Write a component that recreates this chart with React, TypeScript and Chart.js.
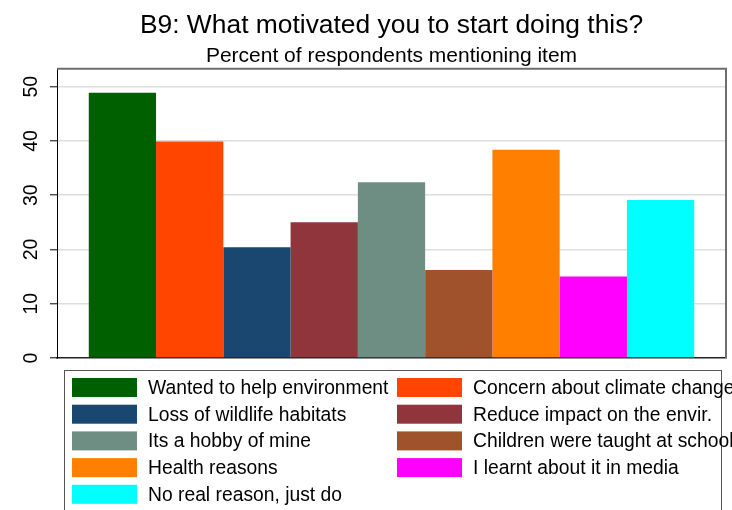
import React, { useEffect, useRef } from "react";
import { Chart, registerables } from "chart.js";

Chart.register(...registerables);

const titleText = "B9: What motivated you to start doing this?";
const subtitleText = "Percent of respondents mentioning item";

const categories = [
  "Wanted to help environment",
  "Concern about climate change",
  "Loss of wildlife habitats",
  "Reduce impact on the envir.",
  "Its a hobby of mine",
  "Children were taught at school",
  "Health reasons",
  "I learnt about it in media",
  "No real reason, just do",
];

const values = [48.9, 39.9, 20.4, 25.0, 32.4, 16.2, 38.4, 15.0, 29.1];

const colors = [
  "#006000",
  "#ff4500",
  "#1a476f",
  "#90353b",
  "#6e8e84",
  "#a0522d",
  "#ff7f00",
  "#ff00ff",
  "#00ffff",
];

const yTicks = [0, 10, 20, 30, 40, 50];

const FONT = "'Liberation Sans', Arial, Helvetica, sans-serif";

const framePlugin = {
  id: "stataFrame",
  afterDraw(chart: any) {
    const { ctx, chartArea } = chart;
    const y = chart.scales.y;
    ctx.save();
    // top and right border of plot region
    ctx.strokeStyle = "#6e6e6e";
    ctx.lineWidth = 2;
    ctx.beginPath();
    ctx.moveTo(chartArea.left, chartArea.top);
    ctx.lineTo(chartArea.right, chartArea.top);
    ctx.lineTo(chartArea.right, chartArea.bottom);
    ctx.stroke();

    // rotated y tick labels
    ctx.fillStyle = "#000";
    ctx.font = `19.5px ${FONT}`;
    ctx.textAlign = "center";
    ctx.textBaseline = "alphabetic";
    y.ticks.forEach((t: any, i: number) => {
      const py = y.getPixelForTick(i);
      const label = String(yTicks[i] ?? t.value);
      ctx.save();
      ctx.translate(chartArea.left - 20, py);
      ctx.rotate(-Math.PI / 2);
      ctx.fillText(label, 0, 0);
      ctx.restore();
    });

    // legend box
    const boxLeft = 64;
    const boxRight = 721;
    const boxTop = 370;
    ctx.strokeStyle = "#555";
    ctx.lineWidth = 1;
    ctx.strokeRect(boxLeft + 0.5, boxTop + 0.5, boxRight - boxLeft, 200);

    const colX = [72, 397];
    const swW = 65;
    const swH = 19;
    const rowTop0 = 378;
    const rowStep = 26.7;
    ctx.font = `19.3px ${FONT}`;
    ctx.textAlign = "left";
    ctx.textBaseline = "middle";
    chart.data.datasets.forEach((ds: any, i: number) => {
      const col = i % 2;
      const row = Math.floor(i / 2);
      const x = colX[col];
      const top = rowTop0 + row * rowStep;
      ctx.fillStyle = ds.backgroundColor;
      ctx.fillRect(x, top, swW, swH);
      ctx.fillStyle = "#000";
      ctx.fillText(ds.label, x + swW + 11, top + swH / 2 + 1);
    });
    ctx.restore();
  },
};

export default function App() {
  const ref = useRef<HTMLCanvasElement>(null);

  useEffect(() => {
    if (!ref.current) return;
    const chart = new Chart(ref.current, {
      type: "bar",
      data: {
        labels: [""],
        datasets: categories.map((c, i) => ({
          label: c,
          data: [values[i]],
          backgroundColor: colors[i],
          borderWidth: 0,
          categoryPercentage: 0.905,
          barPercentage: 1,
        })),
      },
      options: {
        responsive: false,
        animation: false,
        devicePixelRatio: 1,
        layout: { padding: { left: 0, right: 6, top: 0, bottom: 152 } },
        plugins: {
          legend: { display: false },
          tooltip: { enabled: false },
          title: {
            display: true,
            text: titleText,
            fullSize: false,
            color: "#000",
            font: { family: FONT, size: 26.4, weight: "normal", lineHeight: 1.2 },
            padding: { top: 10, bottom: 0 },
          },
          subtitle: {
            display: true,
            text: subtitleText,
            fullSize: false,
            color: "#000",
            font: { family: FONT, size: 21, weight: "normal", lineHeight: 1.2 },
            padding: { top: 1.6, bottom: 0.3 },
          },
        },
        scales: {
          x: {
            display: true,
            grid: { display: false, drawTicks: false },
            ticks: { display: false },
            border: { display: true, color: "#222", width: 1.5 },
            afterFit: (s: any) => {
              s.height = 0;
            },
          },
          y: {
            min: 0,
            max: 53.3,
            afterBuildTicks: (s: any) => {
              s.ticks = yTicks.map((v) => ({ value: v }));
            },
            ticks: { display: false },
            grid: {
              color: (c: any) => (c.tick && c.tick.value === 0 ? "rgba(0,0,0,0)" : "#dedede"),
              lineWidth: 1.6,
              tickColor: "#000",
              tickWidth: 1,
              tickLength: 7,
              drawTicks: true,
            },
            border: { display: true, color: "#000", width: 1 },
            afterFit: (s: any) => {
              s.width = 57;
            },
          },
        },
      },
      plugins: [framePlugin],
    });
    return () => chart.destroy();
  }, []);

  return (
    <div style={{ position: "fixed", left: 0, top: 0, width: 732, height: 510, background: "#fff" }}>
      <canvas ref={ref} width={732} height={510} style={{ width: 732, height: 510 }} />
    </div>
  );
}
